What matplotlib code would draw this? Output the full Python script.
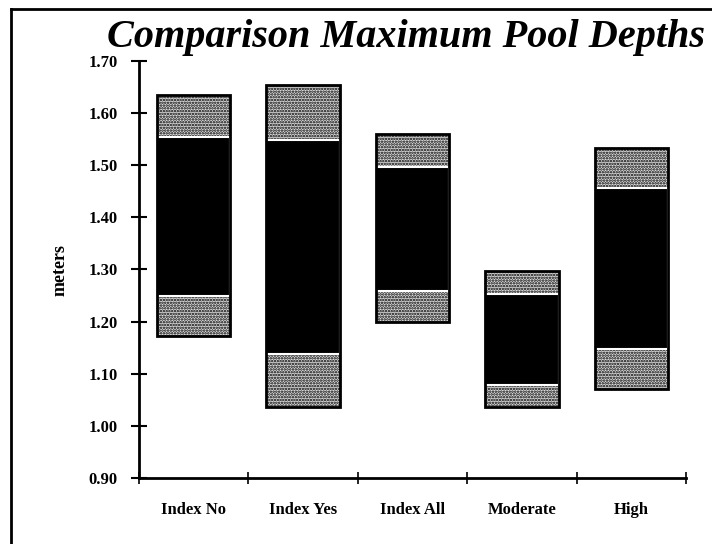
import numpy as np
import matplotlib
matplotlib.use("Agg")
from matplotlib import pyplot as plt
from matplotlib.lines import Line2D

# =======================
# DATA
# =======================

categories = ["Index No", "Index Yes", "Index All", "Moderate", "High"]
# bar bottom, bottom of black box, top of black box, bar top (meters)
bar_min = [1.173, 1.036, 1.200, 1.036, 1.070]
box_low = [1.250, 1.137, 1.259, 1.079, 1.147]
box_high = [1.555, 1.549, 1.497, 1.253, 1.456]
bar_max = [1.634, 1.653, 1.560, 1.298, 1.534]
y_ticks = [0.90, 1.00, 1.10, 1.20, 1.30, 1.40, 1.50, 1.60, 1.70]

SERIF = "Liberation Serif"
plt.rcParams["hatch.linewidth"] = 1.2

# =======================
# PLOT
# =======================

def draw_bars(ax):
    x = np.arange(len(categories)) + 0.5
    w = 0.67
    lo = np.array(bar_min)
    b_lo = np.array(box_low)
    b_hi = np.array(box_high)
    hi = np.array(bar_max)
    # stippled ends
    ax.bar(x, b_lo - lo, w, bottom=lo, color="#dcdcdc", edgecolor="black",
           hatch="......", linewidth=0, zorder=2)
    ax.bar(x, hi - b_hi, w, bottom=b_hi, color="#dcdcdc", edgecolor="black",
           hatch="......", linewidth=0, zorder=2)
    # black middle with white gap lines
    ax.bar(x, b_hi - b_lo, w, bottom=b_lo, color="black", edgecolor="white",
           linewidth=1.5, zorder=3)
    # outline
    ax.bar(x, hi - lo, w, bottom=lo, fill=False, edgecolor="black",
           linewidth=2, zorder=4)


def main():
    fig = plt.figure(figsize=(7.12, 5.44), dpi=100)
    ax = fig.add_axes([139 / 712, 1 - 478 / 544, (686 - 139) / 712, (478 - 61) / 544])

    draw_bars(ax)

    ax.set_xlim(0, len(categories))
    ax.set_ylim(0.9, 1.7)
    for s in ["top", "right"]:
        ax.spines[s].set_visible(False)
    for s in ["left", "bottom"]:
        ax.spines[s].set_linewidth(2)

    ax.set_yticks(y_ticks)
    ax.set_yticklabels([f"{v:.2f}" for v in y_ticks], fontfamily=SERIF,
                       fontweight="bold", fontsize=12)
    ax.tick_params(axis="y", direction="inout", length=11, width=1.5, pad=10)

    ax.set_xticks(np.arange(len(categories) + 1))
    ax.set_xticklabels([])
    ax.tick_params(axis="x", which="major", direction="inout", length=9, width=1.2)
    ax.set_xticks(np.arange(len(categories)) + 0.5, minor=True)
    ax.set_xticklabels(categories, minor=True, fontfamily=SERIF,
                       fontweight="bold", fontsize=12)
    ax.tick_params(axis="x", which="minor", length=0, pad=17)

    ax.set_ylabel("meters", fontfamily=SERIF, fontweight="bold", fontsize=13,
                  labelpad=14)

    fig.text(107 / 712, 1 - 47 / 544, "Comparison Maximum Pool Depths",
             fontfamily=SERIF, fontweight="bold", fontstyle="italic",
             fontsize=29, va="baseline", ha="left")

    # page frame
    fig.add_artist(Line2D([11 / 712, 1], [1 - 9 / 544, 1 - 9 / 544],
                          transform=fig.transFigure, color="black", lw=2))
    fig.add_artist(Line2D([11 / 712, 11 / 712], [0, 1 - 9 / 544],
                          transform=fig.transFigure, color="black", lw=2))

    fig.savefig("out.png", dpi=100)


if __name__ == "__main__":
    main()
